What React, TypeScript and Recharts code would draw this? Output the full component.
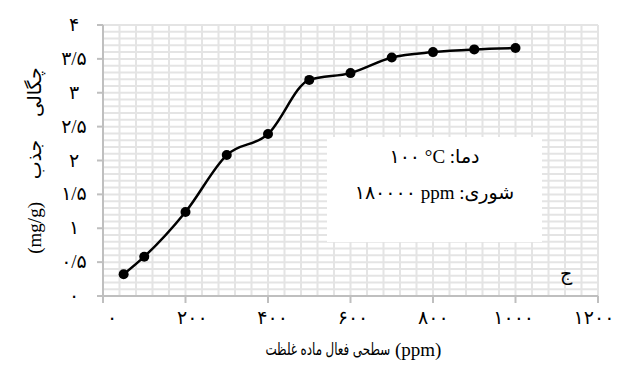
import { LineChart, Line, XAxis, YAxis, CartesianGrid, Label } from 'recharts';

// surfactant concentration (ppm) vs adsorption density (mg/g)
const concentrations = [50, 100, 200, 300, 400, 500, 600, 700, 800, 900, 1000];
const adsorption = [0.32, 0.58, 1.24, 2.08, 2.39, 3.19, 3.29, 3.52, 3.6, 3.64, 3.66];

const xTicks = [0, 200, 400, 600, 800, 1000, 1200];
const yTicks = [0, 0.5, 1, 1.5, 2, 2.5, 3, 3.5, 4];
const X_MAX = 1200;
const Y_MAX = 4;

const LRM = '\u200E';
const xTitleWords = ['غلظت', 'ماده', 'فعال', 'سطحی'];
const xTitleUnit = '(ppm)';
const yTitleUnit = '(mg/g)';
const yTitleWords = ['جذب', 'چگالی'];
const noteTemp = '۱۰۰ °C :دما';
const noteSalinity = '۱۸۰۰۰۰ ppm :شوری';
const panelTag = 'ج';

const data = concentrations.map((c, i) => ({ c, q: adsorption[i] }));

// minor grid: every 40 ppm and every 0.1 mg/g
const gridX = Array.from({ length: 31 }, (_, i) => i * 40);
const gridY = Array.from({ length: 41 }, (_, i) => i / 10);

const toPersian = (v: number) =>
    String(v)
        .replace('.', '/')
        .replace(/[0-9]/g, (d) => '۰۱۲۳۴۵۶۷۸۹'[Number(d)]);

const FONT = '"Liberation Serif", "DejaVu Sans", serif';

const scaleOf = (axis: any) => {
    const s = axis?.scale;
    if (typeof s === 'function') return s;
    if (s && typeof s.map === 'function') return (v: number) => s.map(v);
    return null;
};

const hGrid = ({ yAxis, offset }: any) => {
    const s = scaleOf(yAxis);
    return gridY.map((v) => (s ? s(v) : offset.top + offset.height * (1 - v / Y_MAX)));
};

const vGrid = ({ xAxis, offset }: any) => {
    const s = scaleOf(xAxis);
    return gridX.map((v) => (s ? s(v) : offset.left + (offset.width * v) / X_MAX));
};

const YTick = (props: any) => {
    const { x, y, payload } = props;
    return (
        <text x={x - 21} y={y + 6} textAnchor="middle" fontSize={19} fill="#000" fontFamily={FONT}>
            {toPersian(payload.value)}
        </text>
    );
};

const XTick = (props: any) => {
    const { x, y, payload } = props;
    // labels in the source sit a little right of their ticks at the low end
    const dx = 9 - (13 * payload.value) / X_MAX;
    return (
        <text x={x + dx} y={y + 19} textAnchor="middle" fontSize={19} letterSpacing={3} fill="#000" fontFamily={FONT}>
            {toPersian(payload.value)}
        </text>
    );
};

const YTitle = (props: any) => {
    const { viewBox } = props;
    const cy = viewBox.y + viewBox.height / 2;
    return (
        <text
            transform={`translate(41, ${cy}) rotate(-90)`}
            textAnchor="middle"
            fill="#000"
            fontFamily={FONT}
            fontSize={19}
            wordSpacing={18}
            direction="ltr"
        >
            {LRM + yTitleUnit + ' ' + yTitleWords.join(LRM + ' ')}
        </text>
    );
};

export default function App() {
    return (
        <div style={{ position: 'absolute', left: 0, top: 0, width: 621, height: 376, background: '#fff', fontFamily: FONT }}>
            <LineChart width={621} height={376} data={data} margin={{ top: 25, right: 23, left: 13, bottom: 16 }}>
                <CartesianGrid
                    stroke="#e4e4e4"
                    strokeWidth={2}
                    horizontalCoordinatesGenerator={hGrid}
                    verticalCoordinatesGenerator={vGrid}
                />
                <XAxis
                    dataKey="c"
                    type="number"
                    domain={[0, X_MAX]}
                    ticks={xTicks}
                    height={64}
                    tickSize={7}
                    stroke="#bfbfbf"
                    strokeWidth={2}
                    tick={<XTick />}
                />
                <YAxis
                    type="number"
                    domain={[0, Y_MAX]}
                    ticks={yTicks}
                    width={90}
                    tickSize={6}
                    stroke="#bfbfbf"
                    strokeWidth={2}
                    tick={<YTick />}
                >
                    <Label content={<YTitle />} />
                </YAxis>
                <Line
                    dataKey="q"
                    type="monotone"
                    stroke="#000"
                    strokeWidth={2.5}
                    dot={{ r: 5, fill: '#000', stroke: '#000', strokeWidth: 0 }}
                    isAnimationActive={false}
                />
            </LineChart>

            {/* x axis title: Persian words laid out left to right as in the source */}
            <div
                dir="ltr"
                style={{
                    position: 'absolute',
                    right: 621 - 390,
                    top: 340,
                    fontSize: 17,
                    lineHeight: '20px',
                    whiteSpace: 'nowrap',
                    transform: 'scaleX(0.7)',
                    transformOrigin: 'right center',
                }}
            >
                {xTitleWords.map((w, i) => (
                    <span key={i} style={{ unicodeBidi: 'isolate', marginLeft: i ? 5 : 0 }}>
                        {w}
                    </span>
                ))}
            </div>
            <div style={{ position: 'absolute', left: 395, top: 340, fontSize: 19, lineHeight: '20px' }}>{xTitleUnit}</div>

            <div
                style={{
                    position: 'absolute',
                    left: 327,
                    top: 137,
                    width: 215,
                    height: 105,
                    background: '#fff',
                    textAlign: 'center',
                    fontSize: 19,
                    lineHeight: '36px',
                    paddingTop: 2,
                    boxSizing: 'border-box',
                    direction: 'ltr',
                }}
            >
                <div>{noteTemp}</div>
                <div>{noteSalinity}</div>
            </div>
            <div style={{ position: 'absolute', left: 560, top: 262, fontSize: 19 }}>{panelTag}</div>
        </div>
    );
}
